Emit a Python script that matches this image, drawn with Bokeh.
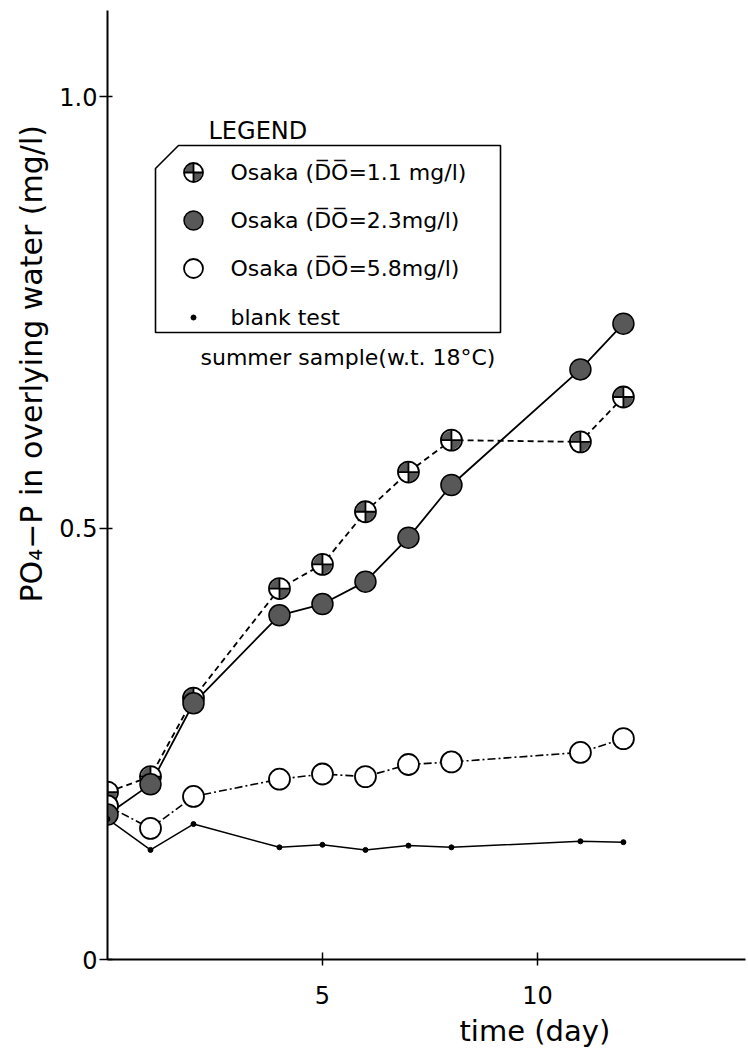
import math
from bokeh.plotting import figure
from bokeh.models import Range1d, FixedTicker, Title
from bokeh.core.properties import value
from bokeh.embed import file_html
from bokeh.resources import INLINE

# ---- data ----
days = [0, 1, 2, 4, 5, 6, 7, 8, 11, 12]
do_1_1 = [0.194, 0.212, 0.303, 0.430, 0.458, 0.519, 0.565, 0.602, 0.600, 0.652]
do_2_3 = [0.168, 0.203, 0.297, 0.399, 0.412, 0.438, 0.489, 0.550, 0.684, 0.737]
do_5_8 = [0.178, 0.152, 0.189, 0.209, 0.215, 0.212, 0.226, 0.229, 0.240, 0.256]
blank = [0.163, 0.127, 0.157, 0.130, 0.133, 0.127, 0.132, 0.130, 0.137, 0.136]
x_ticks = [5, 10]
y_ticks = [0, 0.5, 1.0]
y_tick_labels = {0: "0", 0.5: "0.5", 1: "1.0"}
legend_title = "LEGEND"
legend_labels = ["Osaka (D\u0305O\u0305=1.1 mg/l)", "Osaka (D\u0305O\u0305=2.3mg/l)",
                 "Osaka (D\u0305O\u0305=5.8mg/l)", "blank test"]
note = "summer sample(w.t. 18\u00b0C)"
x_label = "time (day)"
y_label = "PO\u2084\u2212P in overlying water (mg/l)"

# ---- layout ----
W, H = 746, 1055
BL, BR, BT = 107, 1, 10
FB = 959
BB = H - FB
X0, X1 = 0.0, 14.84
Y0, Y1 = 0.0, 1.10
FL, FT = BL, BT
FW, FH = W - BL - BR, FB - BT
FONT = value("DejaVu Sans")
DARK = "#585858"


def dx(px):
    return X0 + (px - FL) / FW * (X1 - X0)


def dy(py):
    return Y0 + (FB - py) / FH * (Y1 - Y0)


p = figure(width=W, height=H, x_range=Range1d(X0, X1), y_range=Range1d(Y0, Y1),
           output_backend="svg", toolbar_location=None,
           min_border_left=BL, min_border_right=BR, min_border_top=BT, min_border_bottom=BB)
p.outline_line_color = None
p.xgrid.grid_line_color = None
p.ygrid.grid_line_color = None

for ax in (p.xaxis[0], p.yaxis[0]):
    ax.axis_line_width = 2
    ax.axis_line_color = "black"
    ax.major_tick_line_width = 1.5
    ax.major_tick_line_color = "black"
    ax.minor_tick_line_color = None
    ax.major_label_text_font = "DejaVu Sans"
    ax.major_label_text_font_size = "24px"
    ax.major_label_text_color = "black"
p.xaxis.ticker = FixedTicker(ticks=x_ticks)
p.yaxis.ticker = FixedTicker(ticks=y_ticks)
p.yaxis.major_label_overrides = y_tick_labels
p.xaxis.major_tick_in = 7
p.xaxis.major_tick_out = 6
p.xaxis.major_label_standoff = 20
p.yaxis.major_tick_in = 5
p.yaxis.major_tick_out = 8
p.yaxis.major_label_standoff = 2

# axis titles as side-panel titles (offset to match the reference placement)
p.add_layout(Title(text=x_label, align="left", offset=352, standoff=11,
                   text_font="DejaVu Sans", text_font_size="29px",
                   text_font_style="normal", text_color="black"), "below")
p.add_layout(Title(text=y_label, align="left", offset=357, standoff=16,
                   text_font="DejaVu Sans", text_font_size="30px",
                   text_font_style="normal", text_color="black"), "left")


def quartered(xs, ys, size=21):
    p.scatter(xs, ys, size=size, marker="circle", fill_color="white", line_color=None)
    r = size / 2 - 1
    p.wedge(x=xs, y=ys, radius=r, radius_units="screen", start_angle=math.pi / 2,
            end_angle=math.pi, fill_color=DARK, line_color=None)
    p.wedge(x=xs, y=ys, radius=r, radius_units="screen", start_angle=3 * math.pi / 2,
            end_angle=2 * math.pi, fill_color=DARK, line_color=None)
    p.scatter(xs, ys, size=size, marker="circle_cross", fill_alpha=0,
              line_color="black", line_width=1.8)


def dark(xs, ys, size=21):
    p.scatter(xs, ys, size=size, marker="circle", fill_color=DARK,
              line_color="black", line_width=1.5)


def openc(xs, ys, size=21):
    p.scatter(xs, ys, size=size, marker="circle", fill_color="white",
              line_color="black", line_width=1.8)


def dots(xs, ys):
    p.scatter(xs, ys, size=5, marker="circle", fill_color="black", line_color="black")


# ---- series lines ----
p.line(days, blank, line_color="black", line_width=1.5)
p.line(days, do_5_8, line_color="black", line_width=1.6, line_dash="8 3 2 3")
p.line(days, do_1_1, line_color="black", line_width=1.8, line_dash="6 4")
p.line(days, do_2_3, line_color="black", line_width=1.8)

# ---- markers ----
quartered(days, do_1_1)
openc(days, do_5_8)
dark(days, do_2_3)
dots(days, blank)

# ---- legend (drawn manually, cut-corner box) ----
bx = [dx(155), dx(178), dx(500), dx(500), dx(155)]
by = [dy(168), dy(145), dy(145), dy(332), dy(332)]
p.patch(bx, by, fill_color="white", line_color="black", line_width=1.6)
rows = [172, 220, 268, 317]
mx = dx(193)
quartered([mx], [dy(rows[0])], size=19)
dark([mx], [dy(rows[1])], size=19)
openc([mx], [dy(rows[2])], size=19)
dots([mx], [dy(rows[3])])
p.text(x=[dx(230)] * 4, y=[dy(r) for r in rows], text=legend_labels,
       text_font=FONT, text_font_size="22px", text_baseline="middle",
       text_align="left", text_color="black")
p.text(x=[dx(208)], y=[dy(130)], text=[legend_title], text_font=FONT,
       text_font_size="24px", text_baseline="middle", text_align="left", text_color="black")
p.text(x=[dx(200)], y=[dy(357)], text=[note], text_font=FONT,
       text_font_size="22px", text_baseline="middle", text_align="left", text_color="black")

open("out.html", "w").write(file_html(p, INLINE))
